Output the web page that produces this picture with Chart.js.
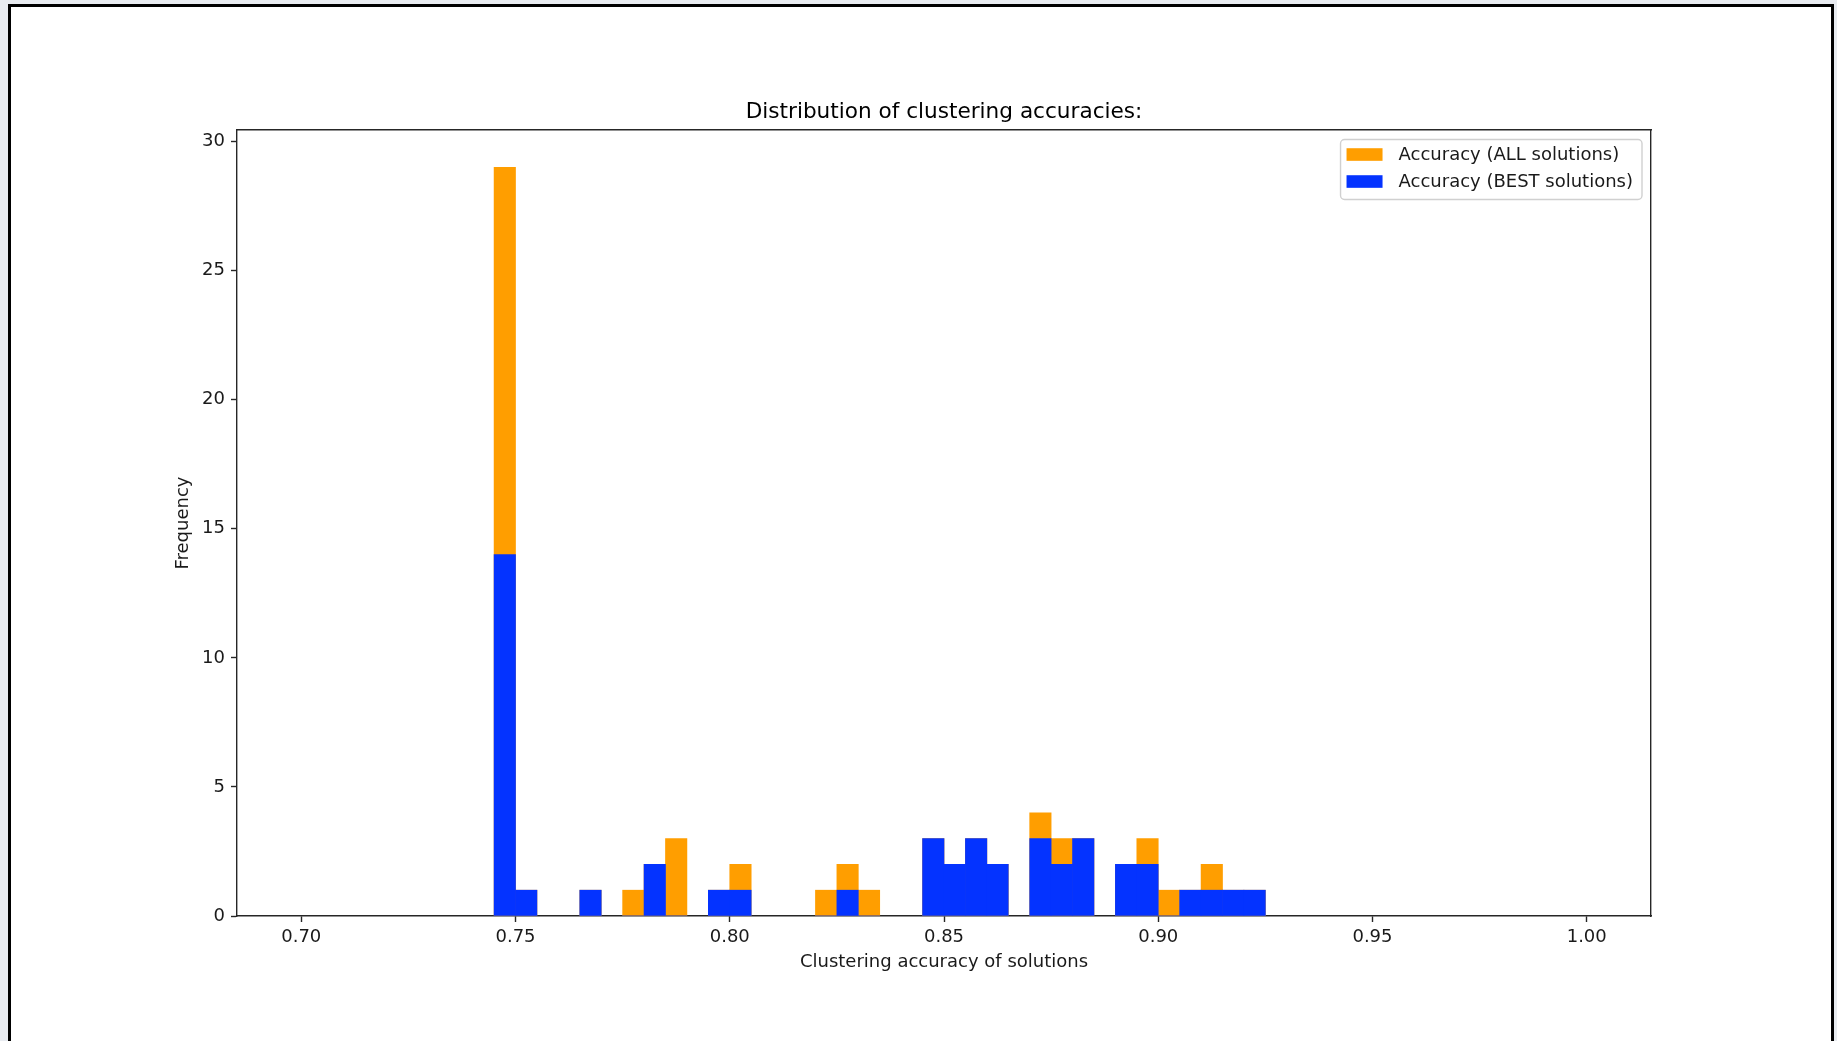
<!DOCTYPE html>
<html>
<head>
<meta charset="utf-8">
<script src="https://cdn.jsdelivr.net/npm/chart.js@4.4.1/dist/chart.umd.min.js"></script>
<style>
html,body{margin:0;padding:0;width:1837px;height:1041px;overflow:hidden;background:#e8ebf0;}
#frame{position:absolute;left:8px;top:4px;width:1820px;height:1100px;border:3px solid #000;background:#fff;}
#c{position:absolute;left:0;top:0;}
</style>
</head>
<body>
<div id="frame"></div>
<canvas id="c" width="1837" height="1041"></canvas>
<script>
// ---- data (histogram bins of width 0.005) ----
const binStarts  = [0.745,0.750,0.765,0.775,0.780,0.785,0.795,0.800,0.820,0.825,0.830,0.845,0.850,0.855,0.860,0.870,0.875,0.880,0.890,0.895,0.900,0.905,0.910,0.915,0.920];
const allCounts  = [29,1,1,1,2,3,1,2,1,2,1,3,2,3,2,4,3,3,2,3,1,1,2,1,1];
const bestCounts = [14,1,1,0,2,0,1,1,0,1,0,3,2,3,2,3,2,3,2,2,0,1,1,1,1];
const binWidth = 0.005;
const xTicks = [0.70,0.75,0.80,0.85,0.90,0.95,1.00];
const yTicks = [0,5,10,15,20,25,30];
const seriesLabels = ['Accuracy (ALL solutions)','Accuracy (BEST solutions)'];
const titleText = 'Distribution of clustering accuracies:';
const xTitle = 'Clustering accuracy of solutions';
const yTitle = 'Frequency';

const FONT = "'DejaVu Sans'";
const AX = '#262626';

function toPoints(counts){
  return binStarts.map((s,i)=>({x: s + binWidth/2, y: counts[i]}));
}

const innerLegend = {
  id: 'innerLegend',
  afterDraw(chart){
    const {ctx, chartArea} = chart;
    const fs = 18;
    ctx.save();
    ctx.font = fs + 'px ' + FONT;
    const items = chart.data.datasets.slice().sort((a,b)=>a.legendIndex-b.legendIndex)
      .map(d=>({text:d.label,color:d.backgroundColor}));
    const textW = Math.max(...items.map(i=>ctx.measureText(i.text).width));
    const w = 6 + 36 + 16 + textW + 9;
    const h = 60;
    const right = chartArea.right - 9;
    const left = right - w;
    const top = chartArea.top + 9.5;
    const r = 4;
    ctx.beginPath();
    ctx.moveTo(left+r, top);
    ctx.lineTo(left+w-r, top);
    ctx.arcTo(left+w, top, left+w, top+r, r);
    ctx.lineTo(left+w, top+h-r);
    ctx.arcTo(left+w, top+h, left+w-r, top+h, r);
    ctx.lineTo(left+r, top+h);
    ctx.arcTo(left, top+h, left, top+h-r, r);
    ctx.lineTo(left, top+r);
    ctx.arcTo(left, top, left+r, top, r);
    ctx.closePath();
    ctx.fillStyle = 'rgba(255,255,255,0.8)';
    ctx.fill();
    ctx.strokeStyle = '#d0d0d0';
    ctx.lineWidth = 1.4;
    ctx.stroke();
    items.forEach((it,i)=>{
      const cy = top + 15 + i*27;
      ctx.fillStyle = it.color;
      ctx.fillRect(left + 6, cy - 6.3, 36, 12.6);
      ctx.fillStyle = '#1a1a1a';
      ctx.textBaseline = 'middle';
      ctx.textAlign = 'left';
      ctx.fillText(it.text, left + 58, cy + 1);
    });
    ctx.restore();
  }
};

new Chart(document.getElementById('c'), {
  type: 'bar',
  data: {
    datasets: [
      { label: seriesLabels[0], data: toPoints(allCounts), backgroundColor: '#ff9e00',
        grouped: false, order: 2, legendIndex: 0, barPercentage: 1, categoryPercentage: 1, borderWidth: 0 },
      { label: seriesLabels[1], data: toPoints(bestCounts), backgroundColor: '#0433ff',
        grouped: false, order: 1, legendIndex: 1, barPercentage: 1, categoryPercentage: 1, borderWidth: 0 }
    ]
  },
  options: {
    responsive: false,
    devicePixelRatio: 1,
    animation: false,
    layout: { padding: { left: 172.7, right: 186, top: 99.1, bottom: 68.2 } },
    plugins: {
      legend: { display: false },
      tooltip: { enabled: false },
      title: {
        display: true, text: titleText, fullSize: false,
        color: '#000', font: { family: FONT, size: 21.6, weight: 'normal', lineHeight: 1.2 },
        padding: { top: 0, bottom: 5 }
      }
    },
    scales: {
      x: {
        type: 'linear', position: 'bottom', min: 0.685, max: 1.015, offset: false,
        afterBuildTicks: s => { s.ticks = xTicks.map(v=>({value:v})); },
        afterFit: s => { s.height = 56.8; },
        ticks: { color: '#1a1a1a', font: { family: FONT, size: 18 }, padding: 5, maxRotation: 0,
                 autoSkip: false, callback: v => Number(v).toFixed(2) },
        grid: { display: true, offset: false, drawOnChartArea: false, drawTicks: true, tickLength: 6, tickWidth: 1.4, tickColor: AX, color: AX },
        border: { display: true, color: AX, width: 1.4 },
        title: { display: true, text: xTitle, color: '#1a1a1a', font: { family: FONT, size: 18 }, padding: 0 }
      },
      y: {
        type: 'linear', position: 'left', min: 0, max: 30.45,
        afterBuildTicks: s => { s.ticks = yTicks.map(v=>({value:v})); },
        afterFit: s => { s.width = 64.3; },
        ticks: { color: '#1a1a1a', font: { family: FONT, size: 18 }, padding: 6, autoSkip: false },
        grid: { display: true, offset: false, drawOnChartArea: false, drawTicks: true, tickLength: 6, tickWidth: 1.4, tickColor: AX, color: AX },
        border: { display: true, color: AX, width: 1.4 },
        title: { display: true, text: yTitle, color: '#1a1a1a', font: { family: FONT, size: 18 }, padding: 0 }
      },
      xTop: {
        type: 'linear', position: 'top', display: true,
        afterFit: s => { s.height = 0; },
        ticks: { display: false },
        grid: { display: false, drawTicks: false },
        border: { display: true, color: AX, width: 1.4 }
      },
      yRight: {
        type: 'linear', position: 'right', display: true,
        afterFit: s => { s.width = 0; },
        ticks: { display: false },
        grid: { display: false, drawTicks: false },
        border: { display: true, color: AX, width: 1.4 }
      }
    }
  },
  plugins: [innerLegend]
});
</script>
</body>
</html>
